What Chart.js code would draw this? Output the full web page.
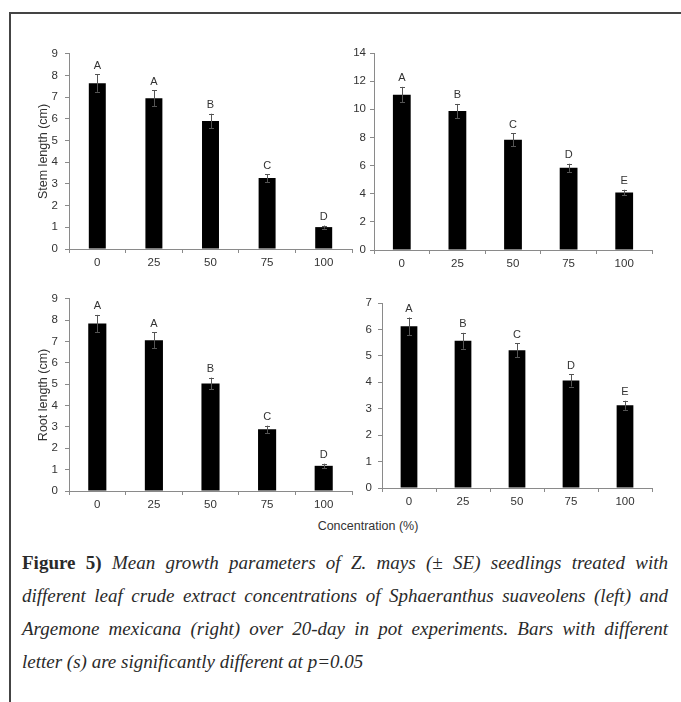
<!DOCTYPE html>
<html lang="en">
<head>
  <meta charset="UTF-8" />
  <title>Figure 5</title>
  <script src="https://cdn.jsdelivr.net/npm/chart.js"></script>
  <style>
    body {
      margin: 0;
      background: #fff;
    }
    #page {
      position: relative;
      width: 681px;
      height: 702px;
      overflow: hidden;
    }
    #frame {
      position: absolute;
      left: 9px;
      top: 12px;
      width: 700px;
      height: 720px;
      border-top: 2px solid #444;
      border-left: 2px solid #444;
    }
    .panel {
      position: absolute;
    }
    #xtitle {
      position: absolute;
      left: 268px;
      width: 200px;
      top: 519px;
      text-align: center;
      font: 12.5px "Liberation Sans", Arial, sans-serif;
      color: #333;
    }
    #caption {
      position: absolute;
      left: 22px;
      top: 546px;
      width: 646px;
      font: italic 19px "Liberation Serif", "DejaVu Serif", serif;
      color: #2a2a2a;
      line-height: 33px;
    }
    #caption .ln {
      text-align: justify;
      text-align-last: justify;
      white-space: nowrap;
    }
    #caption .ln.last {
      text-align-last: left;
    }
    #caption b {
      font-style: normal;
    }
  </style>
</head>
<body>
<div id="page">
  <div id="frame"></div>
  <canvas id="stemLeft" class="panel"></canvas>
  <canvas id="stemRight" class="panel"></canvas>
  <canvas id="rootLeft" class="panel"></canvas>
  <canvas id="rootRight" class="panel"></canvas>
  <div id="xtitle">Concentration (%)</div>
  <div id="caption">
    <div class="ln"><b>Figure 5)</b> Mean growth parameters of Z. mays (± SE) seedlings treated with</div>
    <div class="ln">different leaf crude extract concentrations of Sphaeranthus suaveolens (left) and</div>
    <div class="ln">Argemone mexicana (right) over 20-day in pot experiments. Bars with different</div>
    <div class="ln last">letter (s) are significantly different at p=0.05</div>
  </div>
</div>

<script>
  // concentrations (%)
  const concentrations = ['0', '25', '50', '75', '100'];

  // stem length (cm), Sphaeranthus suaveolens
  const stemLeft = [7.65, 6.95, 5.9, 3.27, 1.01];
  const stemLeftSE = [0.4, 0.37, 0.34, 0.18, 0.07];
  const stemLeftLetters = ['A', 'A', 'B', 'C', 'D'];

  // stem length (cm), Argemone mexicana
  const stemRight = [11.04, 9.88, 7.84, 5.84, 4.09];
  const stemRightSE = [0.55, 0.5, 0.47, 0.29, 0.19];
  const stemRightLetters = ['A', 'B', 'C', 'D', 'E'];

  // root length (cm), Sphaeranthus suaveolens
  const rootLeft = [7.85, 7.06, 5.04, 2.89, 1.18];
  const rootLeftSE = [0.4, 0.37, 0.27, 0.17, 0.1];
  const rootLeftLetters = ['A', 'A', 'B', 'C', 'D'];

  // root length (cm), Argemone mexicana
  const rootRight = [6.12, 5.57, 5.21, 4.07, 3.13];
  const rootRightSE = [0.33, 0.3, 0.27, 0.23, 0.17];
  const rootRightLetters = ['A', 'B', 'C', 'D', 'E'];

  const tickFont = { family: 'Liberation Sans', size: 11.5 };
  const axisGrey = '#8a8a8a';

  // error bars + significance letters
  const errorLetters = {
    id: 'errorLetters',
    afterDatasetsDraw(chart, args, opts) {
      const { ctx } = chart;
      const y = chart.scales.y;
      const meta = chart.getDatasetMeta(0);
      const vals = chart.data.datasets[0].data;
      ctx.save();
      meta.data.forEach((bar, i) => {
        const hi = y.getPixelForValue(vals[i] + opts.se[i]);
        const lo = y.getPixelForValue(vals[i] - opts.se[i]);
        const x = Math.round(bar.x) + 0.5;
        ctx.strokeStyle = '#555';
        ctx.lineWidth = 1;
        ctx.beginPath();
        ctx.moveTo(x, hi);
        ctx.lineTo(x, lo);
        ctx.moveTo(x - 2.5, Math.round(hi) + 0.5);
        ctx.lineTo(x + 2.5, Math.round(hi) + 0.5);
        ctx.moveTo(x - 2.5, Math.round(lo) + 0.5);
        ctx.lineTo(x + 2.5, Math.round(lo) + 0.5);
        ctx.stroke();
        ctx.fillStyle = '#333';
        ctx.font = '11px "Liberation Sans"';
        ctx.textAlign = 'center';
        ctx.textBaseline = 'bottom';
        ctx.fillText(opts.letters[i], bar.x, hi - 3);
      });
      ctx.restore();
    }
  };

  function panel(id, box, values, se, letters, yMax, step, yTitle) {
    const cv = document.getElementById(id);
    cv.style.left = box.left + 'px';
    cv.style.top = box.top + 'px';
    cv.width = box.width;
    cv.height = box.height;
    new Chart(cv, {
      type: 'bar',
      data: {
        labels: concentrations,
        datasets: [{
          data: values,
          backgroundColor: '#000',
          borderWidth: 0,
          barPercentage: box.bar,
          categoryPercentage: 1
        }]
      },
      plugins: [errorLetters],
      options: {
        responsive: false,
        animation: false,
        events: [],
        layout: { padding: { top: box.padTop, right: box.padRight, left: 0, bottom: 0 } },
        plugins: {
          legend: { display: false },
          tooltip: { enabled: false },
          errorLetters: { se: se, letters: letters }
        },
        scales: {
          x: {
            afterFit(s) { s.height = box.xAxisH; },
            grid: { offset: true, drawOnChartArea: false, tickLength: 4, color: axisGrey },
            border: { color: axisGrey },
            ticks: { font: tickFont, color: '#333', padding: 3, maxRotation: 0 }
          },
          y: {
            min: 0,
            max: yMax,
            afterFit(s) { s.width = box.axisW; },
            grid: { drawOnChartArea: false, tickLength: 4, color: axisGrey },
            border: { color: axisGrey },
            ticks: { stepSize: step, font: tickFont, color: '#333', padding: box.tickPad },
            title: {
              display: !!yTitle,
              text: yTitle || '',
              color: '#333',
              font: { family: 'Liberation Sans', size: 12.5 },
              padding: { top: 4, bottom: 0 }
            }
          }
        }
      }
    });
  }

  panel('stemLeft',
    { left: 32, top: 40, width: 330, height: 240, axisW: 37, padTop: 13, padRight: 10, xAxisH: 31, tickPad: 7, bar: 0.3 },
    stemLeft, stemLeftSE, stemLeftLetters, 9, 1, 'Stem length (cm)');
  panel('stemRight',
    { left: 340, top: 40, width: 322, height: 240, axisW: 34, padTop: 13, padRight: 10, xAxisH: 30, tickPad: 4, bar: 0.32 },
    stemRight, stemRightSE, stemRightLetters, 14, 2, '');
  panel('rootLeft',
    { left: 32, top: 285, width: 330, height: 230, axisW: 37, padTop: 13, padRight: 10, xAxisH: 24, tickPad: 7, bar: 0.32 },
    rootLeft, rootLeftSE, rootLeftLetters, 9, 1, 'Root length (cm)');
  panel('rootRight',
    { left: 340, top: 290, width: 322, height: 220, axisW: 42, padTop: 13, padRight: 10, xAxisH: 22, tickPad: 6, bar: 0.31 },
    rootRight, rootRightSE, rootRightLetters, 7, 1, '');
</script>
</body>
</html>
